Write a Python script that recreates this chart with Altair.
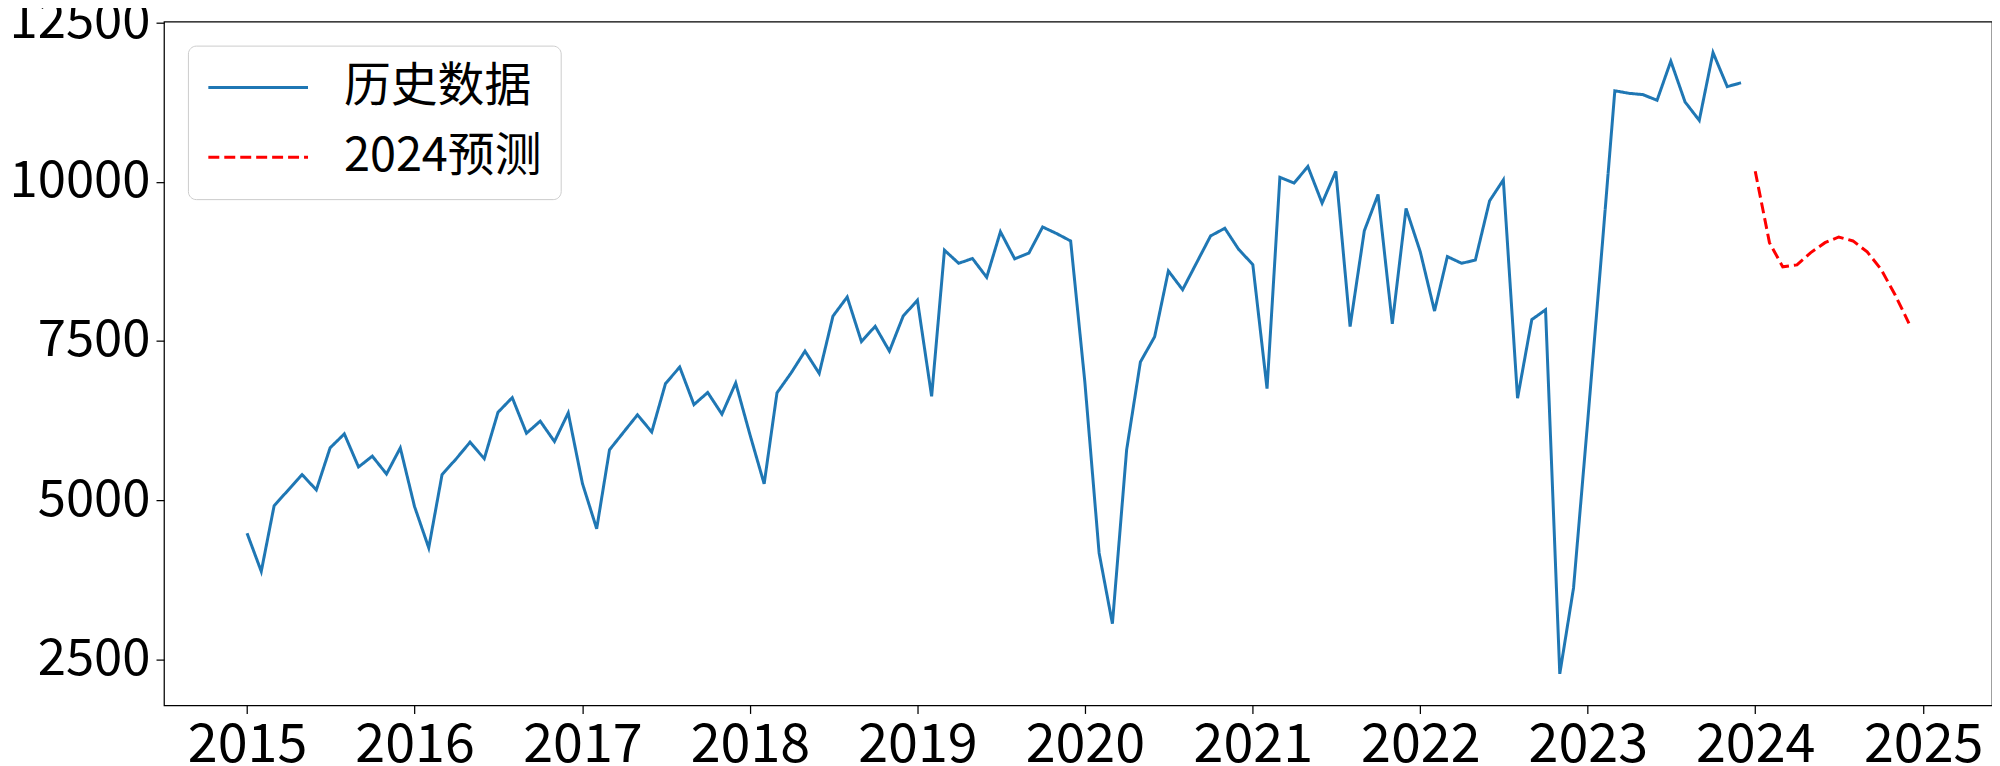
import altair as alt
import pandas as pd

# ---- data ----
series_names = ["历史数据", "2024预测"]
series_colors = ["#1f77b4", "#ff0000"]

hist_start = "2015-01-01"
hist_values = [
    4480, 3880, 4910, 5160, 5400, 5160, 5820, 6040, 5520, 5690, 5410, 5820,   # 2015
    4900, 4250, 5400, 5650, 5910, 5650, 6380, 6610, 6050, 6240, 5920, 6370,   # 2016
    5260, 4550, 5790, 6070, 6340, 6070, 6830, 7090, 6500, 6690, 6350, 6840,   # 2017
    6030, 5255, 6685, 7000, 7340, 6990, 7890, 8190, 7490, 7730, 7340, 7890,   # 2018
    8140, 6630, 8925, 8720, 8795, 8500, 9215, 8790, 8880, 9290, 9185, 9070,   # 2019
    6850, 4170, 3058, 5790, 7170, 7565, 8600, 8305, 8735, 9150, 9270, 8940,   # 2020
    8700, 6750, 10070, 9980, 10240, 9665, 10165, 7725, 9230, 9800, 7770, 9580,  # 2021
    8900, 7970, 8825, 8720, 8770, 9700, 10030, 6600, 7835, 7990, 2270, 3620,  # 2022
    6250, 8950, 11430, 11390, 11370, 11280, 11895, 11255, 10965, 12030, 11495, 11555,  # 2023
]

fc_start = "2024-01-01"
fc_values = [10166, 9044, 8664, 8695, 8888, 9044, 9133, 9071, 8899, 8628, 8221, 7777]

year_ticks = list(range(2015, 2026))
y_ticks = [2500, 5000, 7500, 10000, 12500]

hist_dates = pd.date_range(hist_start, periods=len(hist_values), freq="MS").strftime("%Y-%m-%d")
fc_dates = pd.date_range(fc_start, periods=len(fc_values), freq="MS").strftime("%Y-%m-%d")

df = pd.concat([
    pd.DataFrame({"date": hist_dates, "value": hist_values, "series": series_names[0]}),
    pd.DataFrame({"date": fc_dates, "value": fc_values, "series": series_names[1]}),
], ignore_index=True)

FONT = "Noto Sans CJK SC"

x_enc = alt.X(
    "date:T",
    title=None,
    scale=alt.Scale(
        type="utc",
        domain=[alt.DateTime(year=2014, month=7, date=4, utc=True),
                alt.DateTime(year=2025, month=5, date=31, utc=True)],
    ),
    axis=alt.Axis(
        values=[alt.DateTime(year=y, month=1, date=1, utc=True) for y in year_ticks],
        labelExpr="utcFormat(datum.value, '%Y')",
        labelPadding=5,
        labelFontSize=54,
    ),
)

y_enc = alt.Y(
    "value:Q",
    title=None,
    scale=alt.Scale(domain=[1774, 12515], nice=False, zero=False),
    axis=alt.Axis(values=y_ticks, format="d", labelPadding=6, labelFontSize=51),
)

# legend line symbol: 100px long horizontal stroke
legend_common = dict(
    title=None,
    symbolType="M-2.15,0H7.85",
    symbolSize=400,
    symbolStrokeWidth=3,
    labelOffset=91,
)

chart = alt.Chart(df).mark_line(strokeWidth=3).encode(
    x=x_enc,
    y=y_enc,
    color=alt.Color("series:N",
                    scale=alt.Scale(domain=series_names, range=series_colors),
                    legend=alt.Legend(**legend_common)),
    strokeDash=alt.StrokeDash("series:N",
                              scale=alt.Scale(domain=series_names, range=[[1, 0], [11, 5]]),
                              legend=alt.Legend(**legend_common)),
).properties(
    width=1834,
    height=686,
    autosize=alt.AutoSizeParams(type="none"),
    padding={"left": 156.5, "top": 12.5, "right": 0, "bottom": 60},
    background="white",
).configure_axis(
    labelFont=FONT,
    labelColor="black",
    tickColor="black",
    tickSize=8,
    tickWidth=1.25,
    domain=False,
    grid=False,
).configure_view(
    stroke="black",
    strokeWidth=1.25,
).configure_legend(
    orient="top-left",
    offset=24,
    labelFont=FONT,
    labelFontSize=47,
    labelColor="black",
    labelLimit=0,
    padding=18.5,
    rowPadding=22,
    fillColor="white",
    strokeColor="#cccccc",
    cornerRadius=8,
)

chart.save("out.html", embed_options={"renderer": "svg", "actions": False})
